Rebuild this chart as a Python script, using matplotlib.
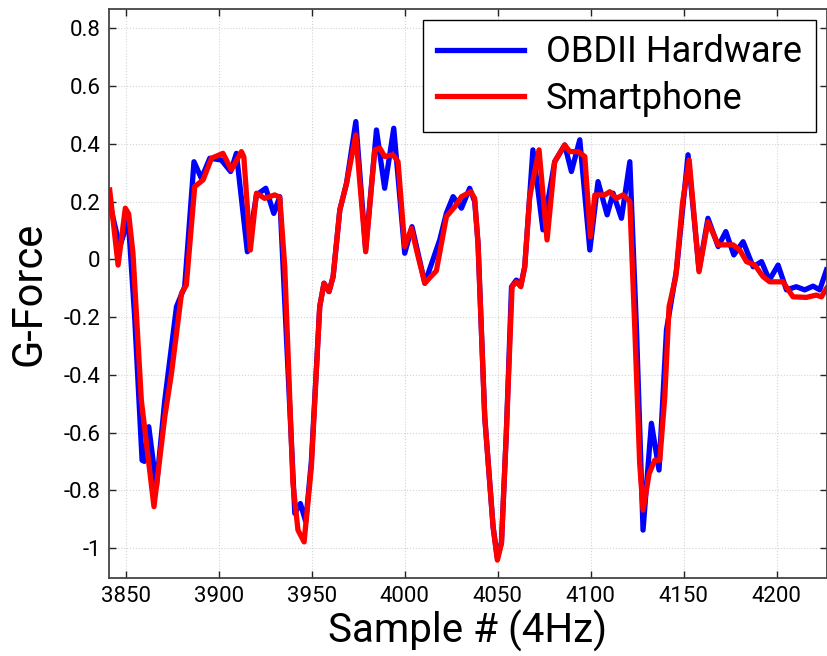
import matplotlib.pyplot as plt
from matplotlib.ticker import FuncFormatter

# OBDII hardware accelerometer trace (sample index, g-force)
obd_x = [3841.4, 3846.8, 3851.4, 3854.8, 3858.8, 3860.0, 3862.4, 3866.5, 3871.0,
         3877.3, 3881.7, 3886.7, 3890.7, 3895.2, 3901.4, 3906.4, 3909.5, 3915.4,
         3920.3, 3925.3, 3929.6, 3932.8, 3940.9, 3943.9, 3946.8, 3949.8, 3954.3,
         3956.6, 3959.3, 3961.5, 3965.1, 3968.7, 3973.7, 3979.0, 3984.8, 3989.2,
         3994.1, 4000.0, 4003.9, 4010.8, 4018.8, 4022.4, 4026.0, 4030.5, 4034.9,
         4037.6, 4039.4, 4043.0, 4047.5, 4049.8, 4052.0, 4054.6, 4057.4, 4060.0,
         4062.4, 4064.5, 4068.9, 4074.3, 4080.6, 4086.0, 4089.6, 4094.1, 4099.5,
         4103.9, 4108.8, 4112.0, 4116.5, 4121.0, 4124.6, 4128.1, 4132.6, 4136.7,
         4140.7, 4146.1, 4152.3, 4158.2, 4163.0, 4168.5, 4172.6, 4176.9, 4181.9,
         4187.3, 4191.8, 4196.0, 4200.7, 4205.2, 4210.5, 4215.0, 4219.5, 4223.1,
         4226.7]
obd_g = [0.194, 0.044, 0.136, -0.199, -0.696, -0.700, -0.580, -0.788, -0.488,
         -0.164, -0.095, 0.338, 0.280, 0.350, 0.344, 0.304, 0.367, 0.026,
         0.223, 0.246, 0.159, 0.217, -0.880, -0.846, -0.909, -0.700, -0.164,
         -0.083, -0.112, -0.060, 0.171, 0.263, 0.477, 0.035, 0.448, 0.246,
         0.454, 0.021, 0.113, -0.083, 0.067, 0.160, 0.217, 0.177, 0.246,
         0.200, 0.055, -0.546, -0.927, -1.035, -0.980, -0.603, -0.095, -0.072,
         -0.090, -0.026, 0.379, 0.102, 0.338, 0.396, 0.304, 0.414, 0.032,
         0.269, 0.154, 0.229, 0.142, 0.338, -0.245, -0.938, -0.568, -0.730,
         -0.245, -0.037, 0.362, -0.037, 0.142, 0.044, 0.096, 0.015, 0.061,
         -0.026, -0.008, -0.072, -0.020, -0.106, -0.095, -0.106, -0.093, -0.106,
         -0.037]

# smartphone accelerometer trace
phone_x = [3841.4, 3845.9, 3849.8, 3851.6, 3853.9, 3858.4, 3865.2, 3871.0, 3874.6,
           3880.0, 3882.6, 3887.1, 3891.6, 3896.1, 3902.3, 3906.8, 3912.2, 3913.5,
           3917.0, 3920.3, 3924.7, 3930.1, 3932.8, 3935.5, 3939.9, 3942.6, 3945.9,
           3949.8, 3954.3, 3956.6, 3959.3, 3961.5, 3965.1, 3968.7, 3973.7, 3979.0,
           3983.9, 3986.6, 3989.2, 3993.7, 3996.4, 4000.0, 4003.6, 4007.2, 4010.8,
           4014.0, 4017.0, 4022.4, 4026.9, 4030.5, 4035.5, 4037.6, 4039.4, 4043.0,
           4047.5, 4049.8, 4052.0, 4054.6, 4057.7, 4060.0, 4062.4, 4064.5, 4067.2,
           4072.2, 4076.5, 4080.6, 4086.0, 4088.7, 4093.2, 4096.8, 4099.8, 4102.2,
           4107.5, 4110.2, 4113.8, 4117.4, 4121.0, 4123.7, 4126.3, 4128.1, 4131.4,
           4134.4, 4137.1, 4139.8, 4142.1, 4145.7, 4149.3, 4152.9, 4158.2, 4163.0,
           4168.5, 4176.5, 4180.1, 4183.7, 4188.2, 4192.6, 4196.2, 4203.3, 4208.7,
           4215.9, 4221.2, 4224.0, 4226.7]
phone_g = [0.240, -0.020, 0.177, 0.157, 0.021, -0.488, -0.857, -0.546, -0.395,
           -0.118, -0.089, 0.252, 0.275, 0.350, 0.367, 0.310, 0.373, 0.355,
           0.032, 0.229, 0.211, 0.223, 0.215, -0.026, -0.776, -0.938, -0.979,
           -0.719, -0.164, -0.083, -0.112, -0.060, 0.171, 0.263, 0.431, 0.026,
           0.379, 0.385, 0.356, 0.362, 0.338, 0.044, 0.107, 0.009, -0.083,
           -0.060, -0.040, 0.148, 0.182, 0.217, 0.234, 0.211, 0.055, -0.546,
           -0.927, -1.042, -0.984, -0.603, -0.095, -0.078, -0.095, -0.026, 0.217,
           0.379, 0.067, 0.338, 0.396, 0.373, 0.373, 0.356, 0.078, 0.223,
           0.223, 0.234, 0.211, 0.223, 0.200, -0.245, -0.707, -0.869, -0.742,
           -0.696, -0.696, -0.476, -0.164, -0.060, 0.194, 0.344, -0.043, 0.130,
           0.050, 0.050, 0.032, -0.008, -0.020, -0.060, -0.078, -0.078, -0.130,
           -0.132, -0.124, -0.130, -0.101]

x_ticks = [3850, 3900, 3950, 4000, 4050, 4100, 4150, 4200]
y_ticks = [-1, -0.8, -0.6, -0.4, -0.2, 0, 0.2, 0.4, 0.6, 0.8]

plt.rcParams['font.family'] = ['Roboto', 'DejaVu Sans']
plt.rcParams['axes.unicode_minus'] = False

fig = plt.figure(figsize=(8.28, 6.56), dpi=100)
ax = fig.add_axes([0.1316, 0.1189, 0.8672, 0.8674])

ax.plot(obd_x, obd_g, color='#0000ff', linewidth=3.8, label='OBDII Hardware',
        solid_joinstyle='round')
ax.plot(phone_x, phone_g, color='#ff0000', linewidth=3.8, label='Smartphone',
        solid_joinstyle='round')

ax.set_xlim(3841, 4227)
ax.set_ylim(-1.104, 0.867)
ax.set_xticks(x_ticks)
ax.set_yticks(y_ticks)
ax.yaxis.set_major_formatter(FuncFormatter(lambda v, p: '%g' % round(v, 2)))

ax.grid(True, color='#d4d4d4', linestyle=':', linewidth=0.8)
ax.tick_params(direction='in', length=5, width=1, labelsize=16, pad=6,
               top=True, right=True, colors='#222222', labelcolor='black')
for s in ax.spines.values():
    s.set_color('#444444')
    s.set_linewidth(1.3)

ax.set_xlabel('Sample # (4Hz)', fontsize=29, labelpad=2)
ax.set_ylabel('G-Force', fontsize=30, labelpad=10)

leg = ax.legend(loc='upper right', fontsize=26, handlelength=2.4,
                handletextpad=0.6, borderpad=0.4, labelspacing=0.3,
                borderaxespad=0.3, fancybox=False, framealpha=1)
leg.get_frame().set_edgecolor('black')
leg.get_frame().set_linewidth(1.0)

fig.savefig('out.png', dpi=100)
plt.close(fig)
